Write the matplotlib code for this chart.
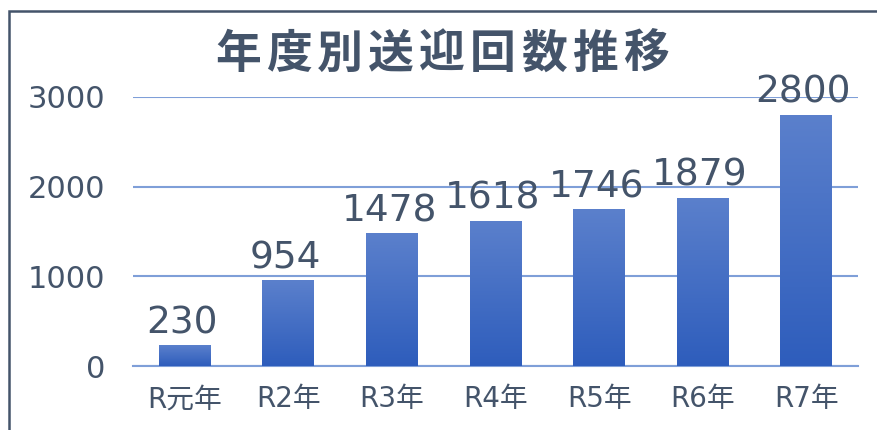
import numpy as np
import matplotlib
matplotlib.use('Agg')
import matplotlib.pyplot as plt
from matplotlib.colors import LinearSegmentedColormap
from matplotlib.patches import Rectangle

plt.rcParams['font.family'] = ['DejaVu Sans', 'Noto Sans CJK JP']

title = '年度別送迎回数推移'
years = ['R元年', 'R2年', 'R3年', 'R4年', 'R5年', 'R6年', 'R7年']
counts = [230, 954, 1478, 1618, 1746, 1879, 2800]
yticks = [0, 1000, 2000, 3000]

text_color = '#44546A'
grid_color = '#7F9FD8'
bar_cmap = LinearSegmentedColormap.from_list('bar', ['#2E5DBC', '#5B80CC'])

W, H = 877, 430
fig = plt.figure(figsize=(W / 100, H / 100), dpi=100)
ax = fig.add_axes([133 / W, 1 - 366 / H, (858 - 133) / W, (366 - 97) / H])

x = np.arange(len(years))
width = 0.5
bars = ax.bar(x, counts, width=width, color='none', zorder=3)

# gradient fill, light at the top, dark at the bottom, per bar
grad = np.linspace(1, 0, 256).reshape(-1, 1)
for b in bars:
    x0, h = b.get_x(), b.get_height()
    im = ax.imshow(grad, cmap=bar_cmap, aspect='auto', zorder=3,
                   extent=[x0, x0 + b.get_width(), 0, h], interpolation='bicubic')
    im.set_clip_path(b)

for xi, c in zip(x, counts):
    ax.annotate(str(c), (xi, c), xytext=(-2, 3), textcoords='offset points',
                ha='center', va='bottom', fontsize=27, color=text_color, zorder=4)

ax.set_xlim(-0.5, len(years) - 0.5)
ax.set_ylim(0, 3000)
ax.set_yticks(yticks)
ax.set_xticks(x)
ax.set_xticklabels(years)
ax.tick_params(axis='y', length=0, pad=20, labelsize=22, labelcolor=text_color)
ax.tick_params(axis='x', length=0, pad=14, labelsize=20, labelcolor=text_color)
ax.grid(axis='y', color=grid_color, linewidth=1.5, zorder=1)
for s in ['top', 'right', 'left']:
    ax.spines[s].set_visible(False)
ax.spines['bottom'].set_color(grid_color)
ax.spines['bottom'].set_linewidth(1.5)

# title with letter spacing: one character at a time
for i, ch in enumerate(title):
    fig.text((238 + 51 * i) / W, 1 - 55 / H, ch, ha='center', va='center',
             fontsize=33, fontweight='bold', color=text_color,
             family='Noto Sans CJK JP')

# chart frame, cut off at the right and bottom edges
fig.patches.append(Rectangle((9 / W, -0.05), 1.0, 1 - 11 / H + 0.05,
                             transform=fig.transFigure, fill=False,
                             edgecolor=text_color, linewidth=1.8))

fig.savefig('out.png', dpi=100)
